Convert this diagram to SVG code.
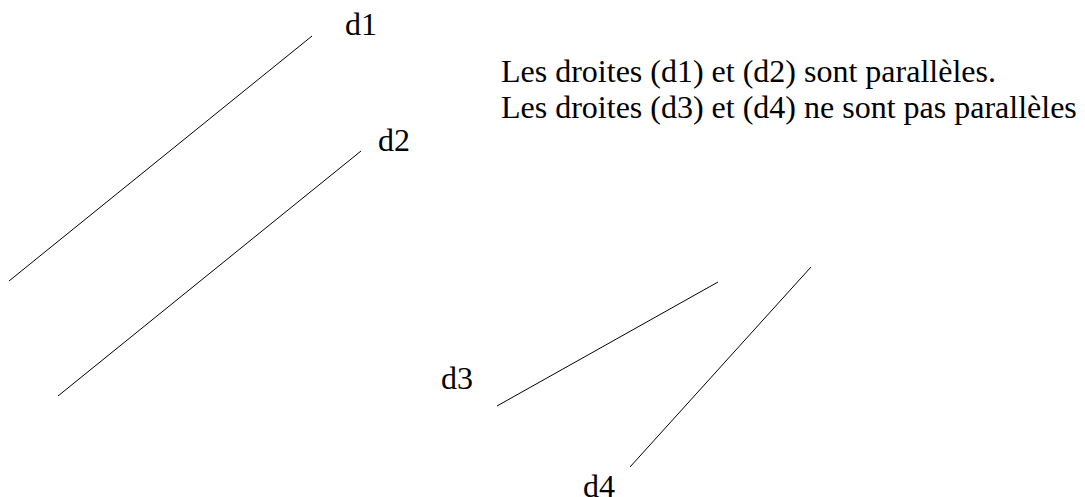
<svg xmlns="http://www.w3.org/2000/svg" width="1085" height="497" viewBox="0 0 1085 497">
<style>
.ln{stroke:#000;stroke-width:1;fill:none}
.lbl{font-family:"Liberation Serif","Times New Roman",serif;font-size:32px;fill:#000}
.txt{font-family:"Liberation Serif","Times New Roman",serif;font-size:32px;fill:#000}
</style>
<rect width="1085" height="497" fill="#fff"/>
<g id="connectors">
<line class="ln" x1="9" y1="281" x2="312" y2="36"/>
<line class="ln" x1="58" y1="396" x2="361" y2="151"/>
<line class="ln" x1="497" y1="406" x2="718" y2="282"/>
<line class="ln" x1="630" y1="467" x2="811" y2="267"/>
</g>
<g id="label-d1"><text class="lbl" x="345" y="35">d1</text></g>
<g id="label-d2"><text class="lbl" x="378" y="151">d2</text></g>
<g id="label-d3"><text class="lbl" x="441" y="389">d3</text></g>
<g id="label-d4"><text class="lbl" x="583" y="497">d4</text></g>
<g id="note">
<text class="txt" x="501" y="82">Les droites (d1) et (d2) sont parallèles.</text>
<text class="txt" x="501" y="118">Les droites (d3) et (d4) ne sont pas parallèles</text>
</g>
</svg>
